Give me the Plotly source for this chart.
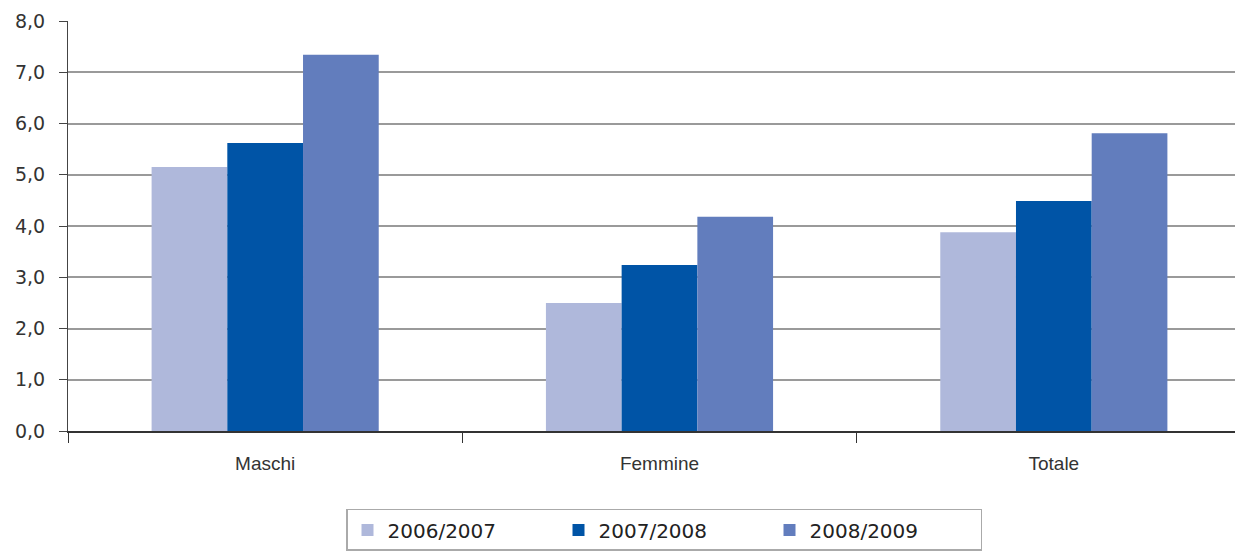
import plotly.graph_objects as go

categories = ["Maschi", "Femmine", "Totale"]
series_names = ["2006/2007", "2007/2008", "2008/2009"]
v_2006_2007 = [5.15, 2.50, 3.88]
v_2007_2008 = [5.62, 3.24, 4.49]
v_2008_2009 = [7.34, 4.18, 5.81]
colors = ["#AFB8DB", "#0054A6", "#627DBD"]
y_ticks = [0, 1, 2, 3, 4, 5, 6, 7, 8]

fig = go.Figure()
for name, vals, col in zip(series_names, [v_2006_2007, v_2007_2008, v_2008_2009], colors):
    fig.add_trace(go.Bar(x=categories, y=vals, name=name, marker=dict(color=col, line=dict(width=0))))

fig.update_layout(
    width=1243, height=553,
    margin=dict(l=60, r=0, t=13, b=130),
    plot_bgcolor="white", paper_bgcolor="white",
    barmode="group", bargap=0.424, bargroupgap=0,
    separators=",.",
    showlegend=True,
    legend=dict(
        orientation="h", x=0.235, xanchor="left", y=-0.19, yanchor="top",
        bordercolor="#AAAAAA", borderwidth=1.5,
        font=dict(family="DejaVu Sans", size=20, color="#222222"),
        entrywidth=166, entrywidthmode="pixels",
        traceorder="normal", itemclick=False,
    ),
    xaxis=dict(
        range=[-0.5, 2.5],
        showline=True, linecolor="#333333", linewidth=1.5,
        ticks="outside", tickson="boundaries", ticklen=10, tickcolor="#333333", tickwidth=1.2,
        ticklabelstandoff=14,
        tickfont=dict(family="Liberation Sans", size=19, color="#333333"),
        showgrid=False,
    ),
    yaxis=dict(
        range=[0, 8], tickvals=y_ticks, tickformat=".1f",
        showline=True, linecolor="#444444", linewidth=1.2,
        ticks="outside", ticklen=8, tickcolor="#444444",
        ticklabelstandoff=10,
        tickfont=dict(family="DejaVu Sans", size=19, color="#333333"),
        showgrid=True, gridcolor="#9A9A9A", gridwidth=1.5,
        zeroline=False,
    ),
)

fig.write_html("out.html")
